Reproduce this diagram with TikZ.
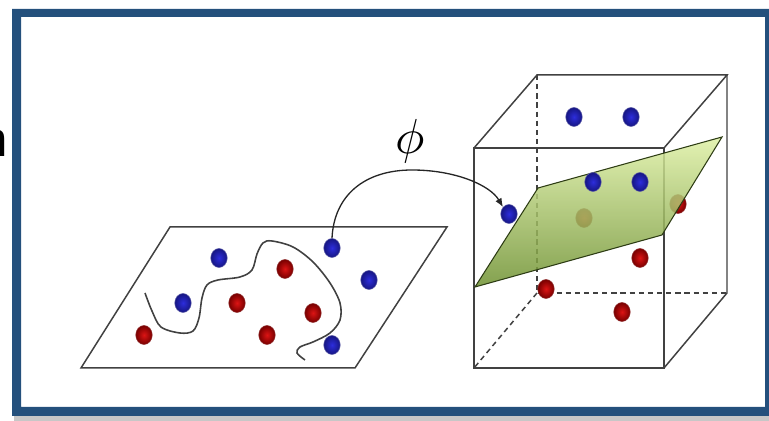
\documentclass[tikz,border=0pt]{standalone}
\usepackage{fontspec}
\usetikzlibrary{shapes.geometric,arrows.meta}
\newfontfamily\sansn{Liberation Sans}
\definecolor{framec}{RGB}{36,80,124}
\definecolor{lin}{RGB}{65,65,65}
\definecolor{bluein}{RGB}{45,45,220}
\definecolor{blueout}{RGB}{22,22,130}
\definecolor{redin}{RGB}{220,20,20}
\definecolor{redout}{RGB}{120,0,0}
\definecolor{planelight}{RGB}{222,240,165}
\definecolor{planedark}{RGB}{110,145,48}
\definecolor{planeedge}{RGB}{45,60,20}
\begin{document}
\begin{tikzpicture}[x=0.02cm,y=0.02cm,
  boxline/.style={draw=lin, line width=0.85pt},
  hidline/.style={draw=lin, line width=0.85pt, dash pattern=on 3pt off 2.2pt},
  bdot/.style={ellipse, minimum width=0.33cm, minimum height=0.38cm, inner sep=0pt,
     inner color=bluein, outer color=blueout, draw=blueout!70, line width=0.3pt},
  rdot/.style={ellipse, minimum width=0.33cm, minimum height=0.38cm, inner sep=0pt,
     inner color=redin, outer color=redout, draw=redout!80, line width=0.3pt},
  wave/.style={draw=lin, line width=0.9pt},
  arr/.style={draw=black!85, line width=0.75pt, -{Latex[length=5pt,width=4pt]}}]
\useasboundingbox (0,0) rectangle (769,-421);
% cut letter at left edge
\begin{scope}
\clip (0,0) rectangle (12,-421);
\node[anchor=base east, inner sep=0pt, font=\sansn\fontsize{28}{28}\selectfont] (ncut) at (8,-157) {n};
\end{scope}
% frame
\fill[black!22] (14,-416) rectangle (769,-421);
\fill[framec, even odd rule] (12,-9) rectangle (775,-416) (21,-17) rectangle (765,-407);
% left plane
\draw[boxline] (170,-227) -- (447,-227) -- (355,-368) -- (81,-368) -- cycle;
\draw[wave] plot[smooth, tension=0.55] coordinates {(145,-293) (152,-311) (161,-327) (180,-333) (193,-331) (199,-318) (202,-298) (207,-285) (218,-280) (240,-277) (252,-270) (257,-254) (263,-243) (272,-241) (293,-247) (313,-262) (330,-283) (340,-303) (340,-320) (330,-333) (313,-342) (300,-347) (297,-353) (305,-360)};
\node[bdot] (d1) at (219,-258) {};
\node[bdot] (d2) at (183,-303) {};
\node[bdot] (d3) at (332,-248) {};
\node[bdot] (d4) at (369,-280) {};
\node[bdot] (d5) at (332,-345) {};
\node[rdot] (d6) at (285,-269) {};
\node[rdot] (d7) at (237,-303) {};
\node[rdot] (d8) at (313,-313) {};
\node[rdot] (d9) at (267,-335) {};
\node[rdot] (d10) at (144,-335) {};
% box
\coordinate (F1) at (474,-148); \coordinate (F2) at (664,-148);
\coordinate (F3) at (664,-368); \coordinate (F4) at (474,-368);
\coordinate (B1) at (537,-75);  \coordinate (B2) at (727,-75);
\coordinate (B3) at (727,-293); \coordinate (B4) at (537,-293);
\draw[hidline] (B1) -- (B4) -- (B3);
\draw[hidline] (B4) -- (F4);
\draw[boxline] (F1) -- (F2) -- (F3) -- (F4) -- cycle;
\draw[boxline] (F1) -- (B1) -- (B2) -- (F2);
\draw[boxline] (B2) -- (B3) -- (F3);
% points behind the plane
\node[rdot] (e6) at (584,-218) {};
\node[rdot] (e7) at (678,-204) {};
% separating plane
\path[top color=planelight, bottom color=planedark, fill opacity=0.85]
  (475,-287) -- (538,-188) -- (722,-137) -- (662,-235) -- cycle;
\draw[draw=planeedge, line width=0.6pt] (475,-287) -- (538,-188) -- (722,-137) -- (662,-235) -- cycle;
% points in front
\node[bdot] (e1) at (574,-117) {};
\node[bdot] (e2) at (631,-117) {};
\node[bdot] (e3) at (593,-182) {};
\node[bdot] (e4) at (640,-182) {};
\node[bdot] (e5) at (509,-214) {};
\node[rdot] (e8) at (640,-258) {};
\node[rdot] (e9) at (546,-289) {};
\node[rdot] (e10) at (622,-312) {};
% mapping arrow
\draw[arr] (d3.north) .. controls (334,-195) and (365,-170) .. (412,-170)
  .. controls (455,-170) and (490,-185) .. (e5.north west);
\node[scale=2.8, inner sep=0pt] (phi) at (410,-141) {$\phi$};
\end{tikzpicture}
\end{document}
